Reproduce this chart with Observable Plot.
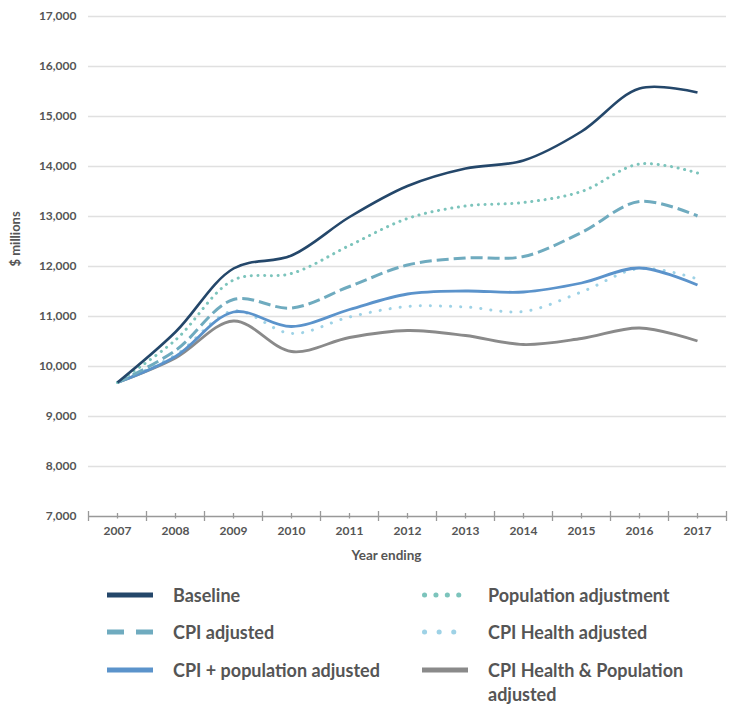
<!DOCTYPE html>
<html>
<head>
<meta charset="utf-8">
<script src="https://cdn.jsdelivr.net/npm/d3@7"></script>
<script src="https://cdn.jsdelivr.net/npm/@observablehq/plot@0.6"></script>
<style>
  body { margin: 0; background: #fff; font-family: Lato, "Noto Sans", sans-serif; }
  #wrap { position: relative; width: 736px; height: 706px; }
  .leg { position: absolute; display: flex; align-items: flex-start; font-weight: 700; font-size: 18px; color: #555; line-height: 24px; }
  .leg svg { flex: none; }
</style>
</head>
<body>
<div id="wrap"></div>
<script>
const years = [2007, 2008, 2009, 2010, 2011, 2012, 2013, 2014, 2015, 2016, 2017];
const baseline     = [9680, 10690, 11960, 12220, 12990, 13610, 13960, 14120, 14700, 15560, 15480];
const population   = [9680, 10530, 11730, 11860, 12420, 12960, 13210, 13280, 13500, 14050, 13870];
const cpiAdj       = [9680, 10320, 11340, 11170, 11600, 12030, 12170, 12200, 12680, 13300, 13010];
const cpiPop       = [9680, 10200, 11090, 10800, 11140, 11450, 11510, 11490, 11670, 11970, 11630];
const cpiHealth    = [9680, 10230, 11110, 10660, 10990, 11200, 11190, 11100, 11490, 11960, 11750];
const cpiHealthPop = [9680, 10170, 10910, 10300, 10580, 10720, 10620, 10440, 10560, 10770, 10510];
const yTicks = [7000, 8000, 9000, 10000, 11000, 12000, 13000, 14000, 15000, 16000, 17000];
const seriesNames = ["Baseline", "Population adjustment", "CPI adjusted", "CPI Health adjusted", "CPI + population adjusted", "CPI Health & Population adjusted"];

const styles = {
  "Baseline": {values: baseline, stroke: "#24476a", width: 2.6, dash: null, cap: "butt"},
  "Population adjustment": {values: population, stroke: "#7cc4bc", width: 3, dash: "0.1 6.6", cap: "round"},
  "CPI adjusted": {values: cpiAdj, stroke: "#6fabbf", width: 3, dash: "12 5", cap: "butt"},
  "CPI Health adjusted": {values: cpiHealth, stroke: "#9ed2e6", width: 3, dash: "0.1 10", cap: "round"},
  "CPI + population adjusted": {values: cpiPop, stroke: "#5b93cb", width: 2.8, dash: null, cap: "butt"},
  "CPI Health & Population adjusted": {values: cpiHealthPop, stroke: "#8a8a8a", width: 2.8, dash: null, cap: "butt"}
};
const drawOrder = ["CPI Health & Population adjusted", "CPI Health adjusted", "CPI + population adjusted", "CPI adjusted", "Population adjustment", "Baseline"];

const boundaries = d3.range(years[0] - 0.5, years[years.length - 1] + 1, 1);

const lineMarks = drawOrder.map(name => {
  const s = styles[name];
  const rows = years.map((y, i) => ({year: y, value: s.values[i]}));
  return Plot.line(rows, {x: "year", y: "value", stroke: s.stroke, strokeWidth: s.width,
    strokeDasharray: s.dash, strokeLinecap: s.cap, curve: "catmull-rom"});
});

const chart = Plot.plot({
  width: 736,
  height: 570,
  marginTop: 16,
  marginBottom: 54,
  marginLeft: 88,
  marginRight: 10,
  style: {fontFamily: "Lato, 'Noto Sans', sans-serif", color: "#555", fontSize: "12px", fontWeight: 700, background: "#fff"},
  x: {domain: [years[0] - 0.5, years[years.length - 1] + 0.5]},
  y: {domain: [7000, 17000]},
  marks: [
    Plot.ruleY(yTicks.slice(1), {stroke: "#e0e0e0", strokeWidth: 1.5}),
    Plot.axisY(yTicks, {tickSize: 0, tickPadding: 12, tickFormat: d3.format(","), label: null, fontWeight: 700}),
    Plot.axisX(years, {tickSize: 0, tickPadding: 10, tickFormat: d => String(d), label: null, fontWeight: 700}),
    Plot.ruleY([7000], {stroke: "#999", strokeWidth: 1.3}),
    Plot.ruleX(boundaries, {y1: 6900, y2: 7100, stroke: "#999", strokeWidth: 1.3}),
    Plot.ruleX(years, {y1: 6950, y2: 7060, stroke: "#999", strokeWidth: 1.3}),
    ...lineMarks,
    Plot.text(["$ millions"], {frameAnchor: "left", dx: -73, rotate: -90, fontWeight: 700, fontSize: 13, fill: "#555"}),
    Plot.text(["Year ending"], {frameAnchor: "bottom", dy: 43, dx: -21, fontWeight: 700, fontSize: 13.5, fill: "#555"})
  ]
});

const wrap = document.getElementById("wrap");
wrap.appendChild(chart);

// Legend
const legendOrder = [
  ["Baseline", 0, 0], ["Population adjustment", 1, 0],
  ["CPI adjusted", 0, 1], ["CPI Health adjusted", 1, 1],
  ["CPI + population adjusted", 0, 2], ["CPI Health & Population adjusted", 1, 2]
];
const colX = [107, 422];
const rowY = [583, 620, 658];
legendOrder.forEach(([name, c, r]) => {
  const s = styles[name];
  const div = document.createElement("div");
  div.className = "leg";
  div.style.left = colX[c] + "px";
  div.style.top = rowY[r] + "px";
  div.style.width = (c === 0 ? 300 : 310) + "px";
  const sw = d3.create("svg").attr("width", 66).attr("height", 24);
  const dash = name === "CPI adjusted" ? "17 12" : name === "Population adjustment" ? "0.1 11.3" : name === "CPI Health adjusted" ? "0.1 14.5" : null;
  sw.append("line").attr("x1", s.cap === "round" ? 2.5 : 0).attr("x2", 46).attr("y1", 12).attr("y2", 12)
    .attr("stroke", s.stroke).attr("stroke-width", 5)
    .attr("stroke-linecap", s.cap).attr("stroke-dasharray", dash);
  div.appendChild(sw.node());
  const t = document.createElement("span");
  if (name === "CPI Health & Population adjusted") {
    t.innerHTML = "CPI Health &amp; Population<br>adjusted";
  } else {
    t.textContent = name;
  }
  div.appendChild(t);
  wrap.appendChild(div);
});
</script>
</body>
</html>
